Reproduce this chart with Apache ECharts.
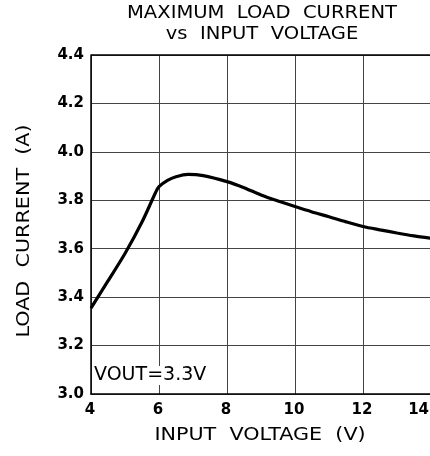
<!DOCTYPE html>
<html>
<head>
<meta charset="utf-8">
<script src="https://cdn.jsdelivr.net/npm/echarts@6/dist/echarts.min.js"></script>
<style>
html,body{margin:0;padding:0;background:#fff;}
#c{width:430px;height:456px;}
</style>
</head>
<body>
<div id="c"></div>
<script>
var inputVoltage = [4.0, 4.5, 5.0, 5.5, 5.9, 6.0, 6.25, 6.5, 6.85, 7.3, 8.0, 8.5, 9.0, 9.5, 10.0, 10.5, 11.0, 11.5, 12.0, 12.5, 13.0, 13.5, 14.0];
var loadCurrent = [3.355, 3.467, 3.58, 3.71, 3.832, 3.856, 3.882, 3.897, 3.907, 3.902, 3.877, 3.852, 3.822, 3.797, 3.774, 3.752, 3.732, 3.711, 3.692, 3.678, 3.665, 3.653, 3.643];
var xTicks = [4, 6, 8, 10, 12, 14];
var yTicks = [3.0, 3.2, 3.4, 3.6, 3.8, 4.0, 4.2, 4.4];
var titleLines = ['MAXIMUM  LOAD  CURRENT', 'vs  INPUT  VOLTAGE'];
var xName = 'INPUT  VOLTAGE  (V)';
var yName = 'LOAD  CURRENT  (A)';
var noteText = 'VOUT=3.3V';

var FONT = 'DejaVu Sans';
var chart = echarts.init(document.getElementById('c'), null, {renderer: 'canvas'});
var pts = inputVoltage.map(function (v, i) { return [v, loadCurrent[i]]; });

function label(text, x, y, size, sx, rot) {
  return {type: 'text', x: x, y: y, scaleX: sx, rotation: rot || 0, z: 20,
    style: {text: text, fontFamily: FONT, fontSize: size, fill: '#000', align: 'center', verticalAlign: 'middle'}};
}

chart.setOption({
  animation: false,
  backgroundColor: '#fff',
  grid: {left: 91, top: 55, right: -1, bottom: 62, containLabel: false, outerBoundsMode: 'none'},
  xAxis: {
    type: 'value', min: xTicks[0], max: xTicks[xTicks.length - 1], interval: 2,
    axisLine: {show: true, lineStyle: {color: '#000', width: 1.5}},
    axisTick: {show: false},
    axisLabel: {fontFamily: FONT, fontSize: 15, fontWeight: 'bold', color: '#000', margin: 9,
      alignMaxLabel: 'right', padding: [0, 2, 0, 0]},
    splitLine: {show: true, lineStyle: {color: '#444', width: 1}}
  },
  yAxis: {
    type: 'value', min: yTicks[0], max: yTicks[yTicks.length - 1], interval: 0.2,
    axisLine: {show: true, lineStyle: {color: '#000', width: 1.5}},
    axisTick: {show: false},
    axisLabel: {fontFamily: FONT, fontSize: 15, fontWeight: 'bold', color: '#000', margin: 7,
      formatter: function (v) { return v.toFixed(1); }},
    splitLine: {show: true, lineStyle: {color: '#444', width: 1}}
  },
  graphic: [
    {type: 'line', shape: {x1: 91, y1: 55, x2: 431, y2: 55}, style: {stroke: '#000', lineWidth: 1.5}, z: 10},
    label(titleLines[0], 262, 14, 17, 1.15),
    label(titleLines[1], 262, 35, 17, 1.15),
    label(xName, 260, 435, 18, 1.15),
    label(yName, 24, 231, 18, 1.15, Math.PI / 2),
    {type: 'text', left: 94, top: 366, z: 20,
      style: {text: noteText, fontFamily: FONT, fontSize: 19, fill: '#000', backgroundColor: '#fff'}}
  ],
  series: [{
    type: 'line', data: pts, smooth: 0.3, showSymbol: false,
    lineStyle: {color: '#000', width: 3.2}, z: 5
  }]
});
</script>
</body>
</html>
